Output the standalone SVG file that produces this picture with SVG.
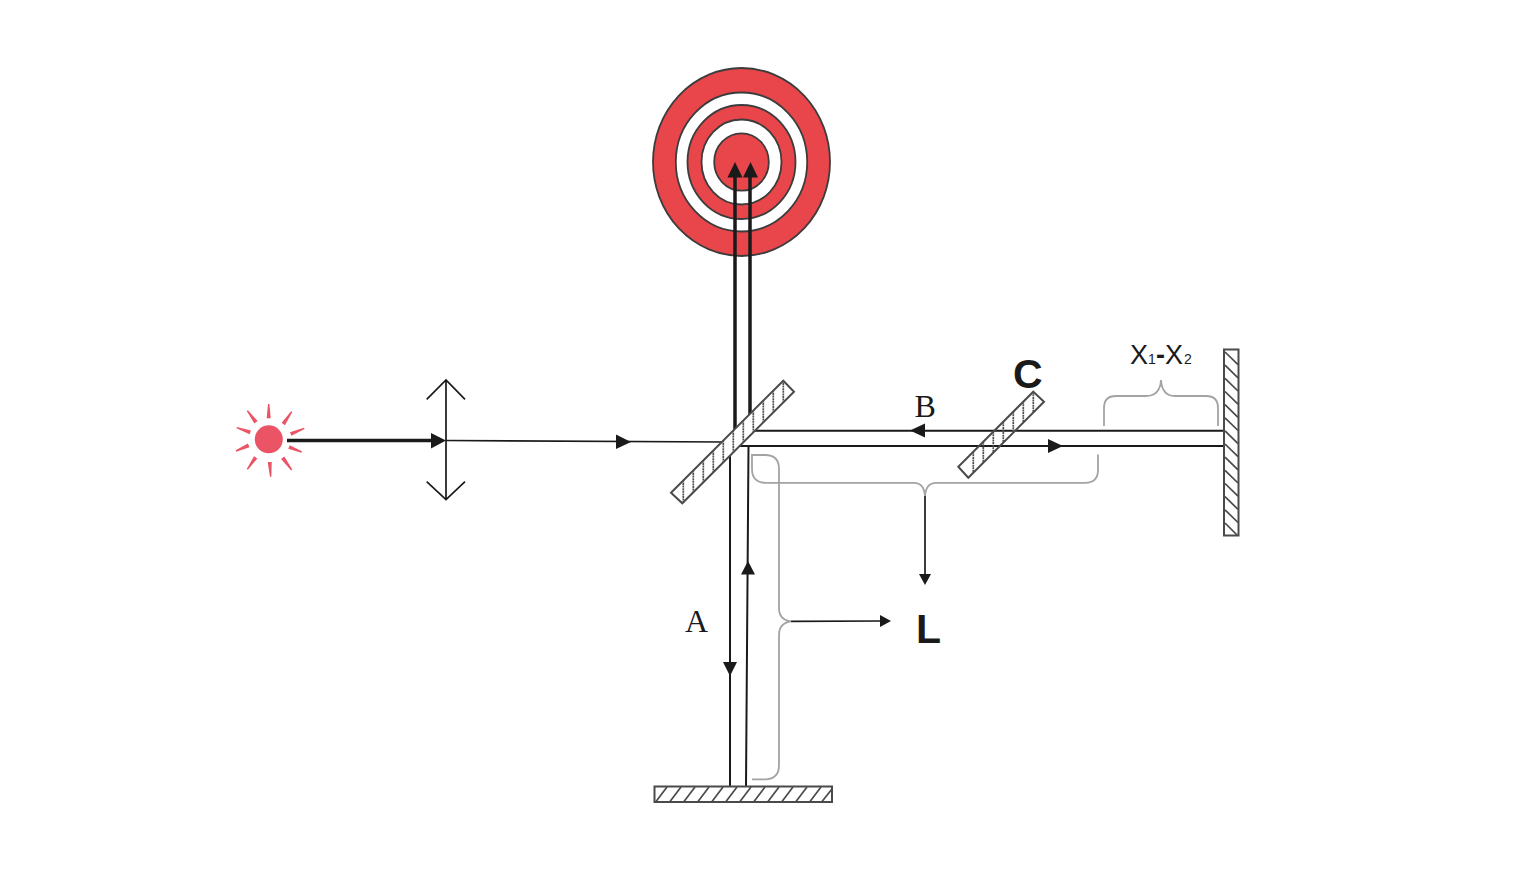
<svg xmlns="http://www.w3.org/2000/svg" width="1516" height="872" viewBox="0 0 1516 872">
<style>
.beam{fill:none;stroke:#1a1a1a;stroke-width:2}
.thick{fill:none;stroke:#1a1a1a;stroke-width:3.5}
.thin{fill:none;stroke:#1a1a1a;stroke-width:1.7}
.head{fill:#1a1a1a;stroke:none}
.brace{fill:none;stroke:#a3a3a3;stroke-width:1.8}
.ring{stroke:#3c3c3c;stroke-width:1.8}
.red{fill:#e8464a}
.white{fill:#fff}
.frame{fill:#fff;stroke:#4a4a4a;stroke-width:2}
.open{fill:none;stroke:#4a4a4a;stroke-width:2}
.hatch{fill:none;stroke:#4a4a4a;stroke-width:1.7}
.vhatch{fill:none;stroke:#505050;stroke-width:1.7;stroke-dasharray:2 .6}
.ray{fill:#ea5465;stroke:none}
.sans{font-family:"Liberation Sans",Arial,sans-serif;fill:#1a1a1a}
.serif{font-family:"Liberation Serif","Times New Roman",serif;fill:#1a1a1a;font-size:32px}
.bold{font-weight:700;font-size:41px}
</style>
<rect width="1516" height="872" fill="#fff"/>
<g id="target">
<ellipse class="ring red" cx="741.5" cy="162" rx="88.5" ry="94"/>
<ellipse class="ring white" cx="741.5" cy="162" rx="65.7" ry="69.5"/>
<ellipse class="ring red" cx="741.5" cy="162" rx="54" ry="57"/>
<ellipse class="ring white" cx="741.5" cy="162" rx="40" ry="42.5"/>
<ellipse class="ring red" cx="741.5" cy="162" rx="27.3" ry="28.7"/>
</g>
<g id="connectors">
<path class="thick" d="M735 432V175M750 425V175"/>
<path class="thick" d="M287 440.5H436"/>
<path class="thin" d="M446 440.5L724 442"/>
<path class="beam" d="M745 430.7H1224M739 446H1224"/>
<path class="beam" d="M730 452V786M748.5 446L746 786"/>
<path class="thin" d="M925 495V576M791 621.3L882 621"/>
<path class="head" d="M735 162l7.5 15.5h-15zM750.5 162l7.5 15.5h-15z"/>
<path class="head" d="M446 440.5l-15-7.500v15.500zM631 442l-15-7.500v14.500z"/>
<path class="head" d="M910 430.500l15-7v14zM1063 446l-15-7v14z"/>
<path class="head" d="M730 676l-7-14h14zM748 561l-7 13.500h14z"/>
<path class="head" d="M925 585l-6-11h12zM891 621l-11-6v12z"/>
</g>
<g id="source">
<circle cx="268.800" cy="439.300" r="14" fill="#ea5465"/>
<path class="ray" d="M266.700 418.300L270.700 418.300L269.400 404L268 404ZM284.950 425.130L281.650 422.870L291.120 411.310L292.280 412.090ZM291.470 435.840L289.930 432.160L304.030 427.650L304.570 428.950ZM289.730 445.140L288.270 448.860L301.440 452.650L301.960 451.350ZM284.320 456.520L281.080 458.880L291.130 470.410L292.270 469.590ZM271.700 461.900L267.700 462.100L270 476.750L271.400 476.650ZM257.340 458.450L254.060 456.150L246.730 468.900L247.870 469.700ZM249.520 447.130L247.880 443.470L235.710 450.360L236.290 451.640ZM250.940 430.410L249.660 434.190L236.480 428.360L236.920 427.040ZM257.600 421.100L254.400 423.500L246.740 411.120L247.860 410.280Z"/>
</g>
<g id="lens">
<path class="thin" d="M446 380V499.500M426.700 399.300L446 380L465 399.300M426.700 481.700L446 499.500L465 481.700"/>
</g>
<g id="splitter">
<path class="frame" d="M783.300 380.700L794 391.700L682.300 503.300L671 492.700Z"/>
<path class="vhatch" d="M683.300 480.400v22M693.300 470.400v22M703.300 460.400v22M713.300 450.400v22M723.300 440.400v22M733.300 430.400v22M743.300 420.400v22M753.300 410.400v22M763.300 400.400v22M773.300 390.400v22M783.300 380.400v22"/>
</g>
<g id="plate-c">
<path class="open" d="M1033.300 391.700L1044 401.700L968.300 477.700L958.300 466.700Z"/>
<path class="vhatch" d="M973.300 451.700v21M983.300 441.700v21M993.300 431.700v21M1003.300 421.700v21M1013.300 411.700v21M1023.300 401.700v21M1033.300 391.700v21"/>
<text class="sans bold" x="1013" y="388">C</text>
</g>
<g id="mirror-bottom">
<rect class="frame" x="654.500" y="786.500" width="177.500" height="15.500"/>
<path class="hatch" d="M667 787l-11 14.500M681 787l-11 14.500M695 787l-11 14.500M709 787l-11 14.500M723 787l-11 14.500M737 787l-11 14.500M751 787l-11 14.500M765 787l-11 14.500M779 787l-11 14.500M793 787l-11 14.500M807 787l-11 14.500M821 787l-11 14.500M832 789l-10 12.500"/>
</g>
<g id="mirror-right">
<rect class="frame" x="1224" y="349.500" width="14.500" height="186"/>
<path class="hatch" d="M1225 352l13 12.700M1225 365.200l13 12.700M1225 378.300l13 12.700M1225 391.500l13 12.700M1225 404.600l13 12.700M1225 417.800l13 12.700M1225 430.900l13 12.700M1225 444l13 12.700M1225 457.200l13 12.700M1225 470.300l13 12.700M1225 483.500l13 12.700M1225 496.600l13 12.700M1225 509.800l13 12.700M1225 523l12 12"/>
</g>
<g id="braces">
<path class="brace" d="M1104 426V408Q1104 396 1116 396H1146Q1160 396 1161 380Q1162 396 1175 396H1206Q1218 396 1218 408V426"/>
<path class="brace" d="M1098 454.500V470Q1098 482.800 1085 482.800H936Q926 482.800 925 496Q924 482.800 914 482.800H766Q752 482.800 752 469V455H765Q779 455 779 469V608Q779 620 791 621.300Q779 623 779 635V765Q779 779.300 765 779.300H752"/>
</g>
<g id="labels">
<text class="serif" x="685" y="632">A</text>
<text class="serif" x="914.500" y="417">B</text>
<text class="sans bold" x="916" y="643">L</text>
<text class="sans" x="1130" y="364" font-size="27">X<tspan x="1148" font-size="14">1</tspan><tspan x="1156" font-weight="700">-</tspan><tspan x="1165">X</tspan><tspan x="1184" font-size="14">2</tspan></text>
</g>
</svg>
